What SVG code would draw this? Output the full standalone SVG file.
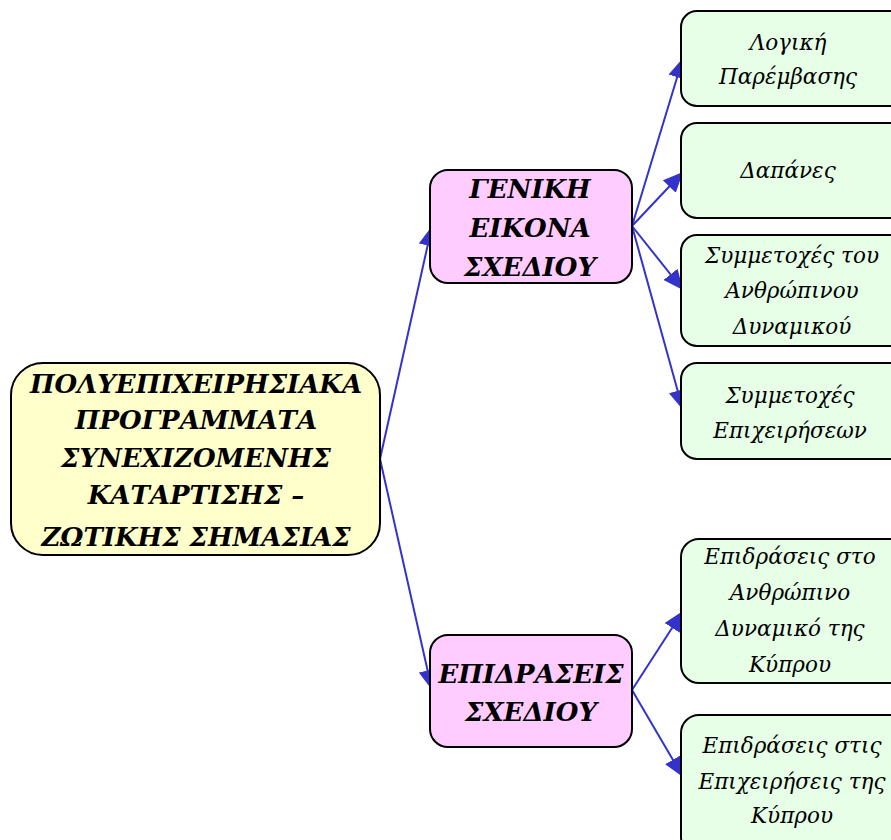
<svg xmlns="http://www.w3.org/2000/svg" width="891" height="840" viewBox="0 0 891 840">
<defs>
<marker id="arr" markerUnits="userSpaceOnUse" markerWidth="22" markerHeight="18" refX="20" refY="9" orient="auto">
<path d="M0,0 L20,9 L0,18 Z" fill="#3333cc"/>
</marker>
<style>
.box{stroke:#000;stroke-width:2}
.root{fill:#ffffcc}
.mid{fill:#ffccff}
.leaf{fill:#e6ffe6}
.bt{font-family:"DejaVu Serif","Liberation Serif",serif;font-style:italic;font-weight:bold;font-size:26px;text-anchor:middle;fill:#000}
.lt{font-family:"DejaVu Serif","Liberation Serif",serif;font-style:italic;font-size:21.5px;text-anchor:middle;fill:#000}
.c{stroke:#3333cc;stroke-width:2;fill:none;marker-end:url(#arr)}
</style>
</defs>
<rect width="891" height="840" fill="#fff"/>
<g id="connectors">
<line class="c" x1="380" y1="459" x2="432" y2="226"/>
<line class="c" x1="380" y1="459" x2="432" y2="690"/>
<line class="c" x1="632" y1="226" x2="683" y2="58"/>
<line class="c" x1="632" y1="226" x2="683" y2="172"/>
<line class="c" x1="632" y1="226" x2="683" y2="290"/>
<line class="c" x1="632" y1="226" x2="683" y2="410"/>
<line class="c" x1="632" y1="690" x2="683" y2="611"/>
<line class="c" x1="632" y1="690" x2="683" y2="777"/>
</g>
<g id="root">
<rect class="box root" x="11" y="363" width="369" height="192" rx="32"/>
<text class="bt" x="196" y="393">ΠΟΛΥΕΠΙΧΕΙΡΗΣΙΑΚΑ</text>
<text class="bt" x="196" y="429">ΠΡΟΓΡΑΜΜΑΤΑ</text>
<text class="bt" x="196" y="467">ΣΥΝΕΧΙΖΟΜΕΝΗΣ</text>
<text class="bt" x="196" y="504">ΚΑΤΑΡΤΙΣΗΣ –</text>
<text class="bt" x="196" y="546">ΖΩΤΙΚΗΣ ΣΗΜΑΣΙΑΣ</text>
</g>
<g id="geniki">
<rect class="box mid" x="430" y="170" width="202" height="113" rx="18"/>
<text class="bt" x="530" y="198">ΓΕΝΙΚΗ</text>
<text class="bt" x="530" y="237">ΕΙΚΟΝΑ</text>
<text class="bt" x="530" y="276">ΣΧΕΔΙΟΥ</text>
</g>
<g id="epidraseis">
<rect class="box mid" x="430" y="635" width="202" height="112" rx="18"/>
<text class="bt" x="531" y="683">ΕΠΙΔΡΑΣΕΙΣ</text>
<text class="bt" x="531" y="721">ΣΧΕΔΙΟΥ</text>
</g>
<g id="leaf1">
<rect class="box leaf" x="681" y="11" width="230" height="95" rx="16"/>
<text class="lt" x="788" y="50">Λογική</text>
<text class="lt" x="788" y="84">Παρέμβασης</text>
</g>
<g id="leaf2">
<rect class="box leaf" x="681" y="123" width="230" height="95" rx="16"/>
<text class="lt" x="788" y="178">Δαπάνες</text>
</g>
<g id="leaf3">
<rect class="box leaf" x="681" y="235" width="230" height="111" rx="16"/>
<text class="lt" x="792" y="263">Συμμετοχές του</text>
<text class="lt" x="792" y="298">Ανθρώπινου</text>
<text class="lt" x="792" y="334">Δυναμικού</text>
</g>
<g id="leaf4">
<rect class="box leaf" x="681" y="363" width="230" height="96" rx="16"/>
<text class="lt" x="790" y="403">Συμμετοχές</text>
<text class="lt" x="790" y="438">Επιχειρήσεων</text>
</g>
<g id="leaf5">
<rect class="box leaf" x="681" y="539" width="230" height="144" rx="18"/>
<text class="lt" x="790" y="564">Επιδράσεις στο</text>
<text class="lt" x="790" y="600">Ανθρώπινο</text>
<text class="lt" x="790" y="636">Δυναμικό της</text>
<text class="lt" x="790" y="672">Κύπρου</text>
</g>
<g id="leaf6">
<rect class="box leaf" x="681" y="715" width="230" height="140" rx="18"/>
<text class="lt" x="792" y="753">Επιδράσεις στις</text>
<text class="lt" x="792" y="789">Επιχειρήσεις της</text>
<text class="lt" x="792" y="823">Κύπρου</text>
</g>
</svg>
